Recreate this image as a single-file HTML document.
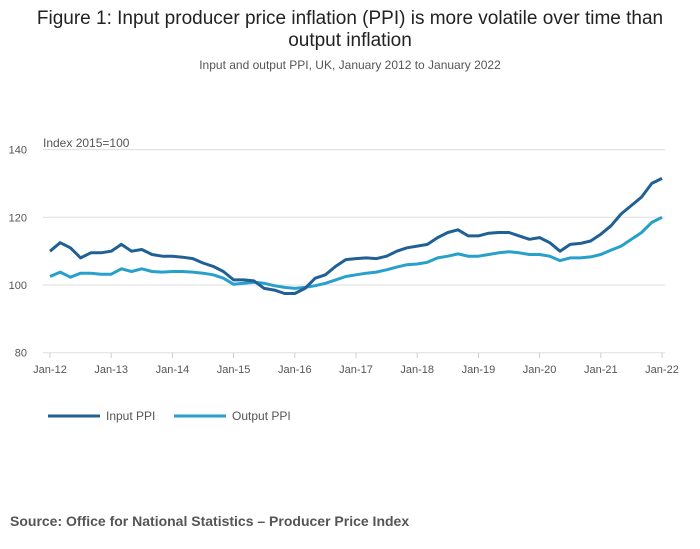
<!DOCTYPE html>
<html><head><meta charset="utf-8"><style>
body{margin:0;background:#fff;font-family:"Liberation Sans",sans-serif;}
#wrap{position:relative;width:700px;height:549px;overflow:hidden;}
.title{position:absolute;left:0;width:700px;text-align:center;font-size:19px;color:#222;line-height:22px;top:8px;}
.sub{position:absolute;left:0;width:700px;text-align:center;font-size:12px;color:#555;top:58px;}
.src{position:absolute;left:10px;top:513px;font-size:14px;font-weight:bold;color:#555;}
</style></head><body>
<div id="wrap">
<div class="title">Figure 1: Input producer price inflation (PPI) is more volatile over time than<br>output inflation</div>
<div class="sub">Input and output PPI, UK, January 2012 to January 2022</div>
<svg id="chart" width="700" height="549" style="position:absolute;left:0;top:0"></svg>
<div class="src">Source: Office for National Statistics – Producer Price Index</div>
</div>
<script>
const yTicks=[80,100,120,140];
const xLabels=["Jan-12","Jan-13","Jan-14","Jan-15","Jan-16","Jan-17","Jan-18","Jan-19","Jan-20","Jan-21","Jan-22"];
const inputPPI=[110.0,112.5,111.0,108.0,109.5,109.5,110,112,110,110.5,109,108.5,108.5,108.2,107.8,106.5,105.5,104,101.5,101.5,101.2,99,98.5,97.5,97.5,99,102,103,105.5,107.5,107.8,108,107.8,108.5,110,111,111.5,112,114,115.5,116.3,114.5,114.5,115.3,115.5,115.5,114.5,113.5,114,112.5,110,112,112.3,113,115,117.5,121,123.5,126,130,131.5];
const outputPPI=[102.5,103.8,102.3,103.5,103.5,103.2,103.2,104.8,104,104.8,104,103.8,104,104,103.8,103.5,103,102,100.2,100.5,100.8,100.5,99.8,99.3,99,99.3,99.8,100.5,101.5,102.5,103,103.5,103.8,104.5,105.3,106,106.2,106.7,108,108.5,109.2,108.5,108.5,109,109.5,109.8,109.5,109,109,108.5,107.2,108,108,108.3,109,110.3,111.5,113.5,115.5,118.5,120];
const NS="http://www.w3.org/2000/svg";
const svg=document.getElementById('chart');
const x0=50,x1=662;
const xScale=i=>x0+(x1-x0)*i/(inputPPI.length-1);
const yScale=v=>285-(v-100)*3.385;
function mk(t,a){const e=document.createElementNS(NS,t);for(const k in a)e.setAttribute(k,a[k]);svg.appendChild(e);return e;}
let t=mk('text',{x:43,y:147,'font-size':12,fill:'#555','font-family':'Liberation Sans'});t.textContent='Index 2015=100';


yTicks.forEach(v=>{
 const g=mk('line',{x1:43,x2:665,y1:yScale(v),y2:yScale(v),stroke:'#ddd','stroke-width':1});
 
 
 const l=mk('text',{x:27,y:yScale(v)+4,'font-size':11,fill:'#555','text-anchor':'end','font-family':'Liberation Sans'});
 l.textContent=v;
 
 
});
xLabels.forEach((s,i)=>{
 const x=x0+(x1-x0)*i/(xLabels.length-1);
 const tk=mk('line',{x1:x,x2:x,y1:353,y2:358,stroke:'#ccc'});
 
 
 const l=mk('text',{x:x,y:373,'font-size':11,fill:'#555','text-anchor':'middle','font-family':'Liberation Sans'});
 l.textContent=s;
 
 
});
function line(data,color,name){
 const d=data.map((v,i)=>(i?'L':'M')+xScale(i).toFixed(1)+','+yScale(v).toFixed(1)).join('');
 const p=mk('path',{d:d,fill:'none',stroke:color,'stroke-width':3,'stroke-linejoin':'round'});
 
 
}
line(outputPPI,'#27a0cc','output-ppi-line');
line(inputPPI,'#206095','input-ppi-line');
[['Input PPI','#206095',48],['Output PPI','#27a0cc',174]].forEach(([n,c,x])=>{
 const l=mk('line',{x1:x,x2:x+52,y1:416,y2:416,stroke:c,'stroke-width':3});
 
 
 const tx=mk('text',{x:x+58,y:420,'font-size':12,fill:'#555','font-family':'Liberation Sans'});
 tx.textContent=n;
 
 
});
</script>
</body></html>
